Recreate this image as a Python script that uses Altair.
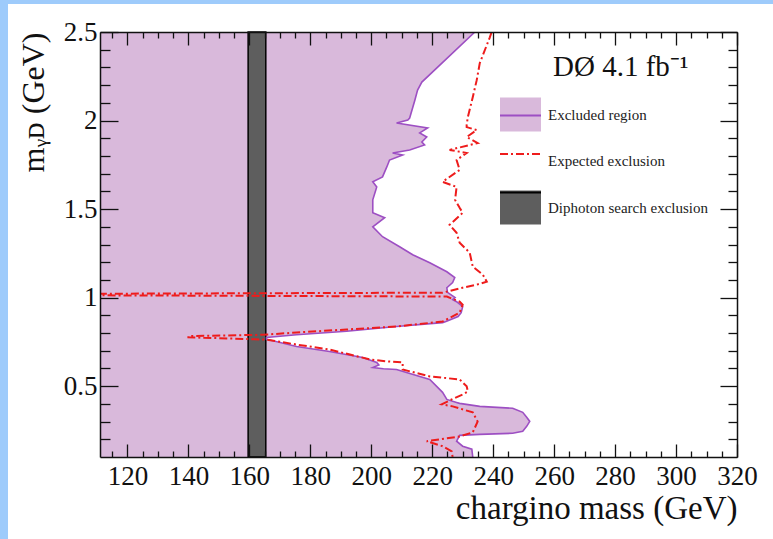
import altair as alt
import pandas as pd

# ---------------- data ----------------
# observed exclusion boundary: m_gammaD (GeV) -> chargino mass (GeV)
obs_y = [2.5, 2.217, 2.172, 2.115, 2.014, 2.003, 1.986, 1.958, 1.93, 1.907, 1.879, 1.862,
         1.834, 1.817, 1.806, 1.777, 1.738, 1.682, 1.654, 1.625, 1.552, 1.496, 1.479, 1.451,
         1.40, 1.344, 1.287, 1.242, 1.197, 1.146, 1.113, 1.085, 1.056, 1.03, 1.0, 0.989,
         0.977, 0.949, 0.915, 0.893, 0.865, 0.859, 0.837, 0.81, 0.79, 0.775, 0.765, 0.724,
         0.696, 0.662, 0.634, 0.62, 0.605, 0.598, 0.594, 0.538, 0.465, 0.425, 0.408, 0.403,
         0.386, 0.375, 0.352, 0.324, 0.301, 0.273, 0.245, 0.234, 0.228, 0.222, 0.189, 0.161,
         0.144, 0.1]
obs_x = [234.0, 216.6, 215.2, 214.3, 212.6, 212.0, 208.3, 218.5, 215.9, 218.2, 216.6, 217.5,
         212.6, 207.0, 210.3, 206.0, 205.1, 203.7, 200.5, 201.8, 200.5, 200.5, 200.5, 204.4,
         200.5, 203.7, 209.3, 213.6, 219.2, 224.8, 227.4, 226.7, 224.8, 225.0, 227.5, 226.7,
         228.0, 230.0, 229.5, 228.5, 224.5, 223.4, 208.3, 191.9, 175.5, 165.6, 165.6, 175.5,
         186.3, 197.2, 201.8, 202.5, 200.5, 204.0, 208.3, 219.2, 223.4, 224.8, 228.0, 229.0,
         235.6, 246.4, 249.7, 251.0, 252.0, 251.0, 249.7, 246.4, 235.6, 229.0, 228.0, 230.0,
         233.0, 233.3]

# expected exclusion (traced in drawing order)
exp_y = [2.5, 2.47, 2.324, 2.228, 2.132, 2.02, 1.975, 1.963, 1.946, 1.907, 1.873, 1.834,
         1.817, 1.777, 1.721, 1.654, 1.625, 1.552, 1.507, 1.479, 1.411, 1.366, 1.31, 1.254,
         1.175, 1.13, 1.09, 1.073, 1.056, 1.028, 1.022, 1.013, 1.006, 0.977, 0.96, 0.915,
         0.865, 0.837, 0.82, 0.803, 0.79, 0.783, 0.776, 0.763, 0.735, 0.707, 0.651, 0.64,
         0.634, 0.594, 0.555, 0.538, 0.499, 0.47, 0.453, 0.425, 0.397, 0.386, 0.352, 0.30,
         0.239, 0.216, 0.189, 0.161, 0.132, 0.1]
exp_x = [239.5, 238.9, 235.6, 234.6, 233.3, 231.7, 231.3, 231.3, 234.6, 231.3, 234.9, 225.7,
         231.3, 228.0, 229.0, 223.4, 228.0, 227.5, 229.0, 230.0, 225.7, 228.0, 229.0, 232.3,
         233.3, 236.6, 237.9, 234.6, 230.0, 223.4, 111.0, 111.0, 224.8, 229.0, 230.0, 229.0,
         223.4, 208.3, 191.9, 175.5, 164.3, 140.0, 140.0, 165.6, 175.5, 186.3, 199.5, 205.1,
         210.3, 210.3, 219.2, 229.0, 231.3, 231.7, 230.0, 226.4, 223.1, 226.7, 233.3, 234.9,
         233.3, 229.0, 218.2, 223.4, 226.4, 226.7]

# diphoton search exclusion band (chargino mass, GeV)
band_lo = [159.6]
band_hi = [165.4]

series_names = ["Excluded region", "Expected exclusion", "Diphoton search exclusion"]
line_keys = ["obs", "exp", "dipho"]   # keys for the line-symbol overlay legend

x_label_values = [120, 140, 160, 180, 200, 220, 240, 260, 280, 300, 320]
x_tick_values = [115, 120, 125, 130, 135, 140, 145, 150, 155, 160, 165, 170, 175, 180, 185,
                 190, 195, 200, 205, 210, 215, 220, 225, 230, 235, 240, 245, 250, 255, 260,
                 265, 270, 275, 280, 285, 290, 295, 300, 305, 310, 315, 320]
y_label_values = [0.5, 1, 1.5, 2, 2.5]
y_tick_values = [0.2, 0.3, 0.4, 0.5, 0.6, 0.7, 0.8, 0.9, 1.0, 1.1, 1.2, 1.3, 1.4, 1.5,
                 1.6, 1.7, 1.8, 1.9, 2.0, 2.1, 2.2, 2.3, 2.4, 2.5]

# ---------------- styling ----------------
W, H = 637, 425
SERIF = "Liberation Serif"
FILL = "#d9b9db"
PURPLE = "#9d4fc3"
RED = "#ee1c1c"
BAND = "#5e5e5e"
BLUE = "#9ecbfb"
INK = "#111111"

obs_df = pd.DataFrame({"x": obs_x, "y": obs_y, "i": list(range(len(obs_x)))})
exp_df = pd.DataFrame({"x": exp_x, "y": exp_y, "i": list(range(len(exp_x)))})
band_df = pd.DataFrame({"lo": band_lo, "hi": band_hi})
leg_df = pd.DataFrame({"series": series_names, "key": line_keys})
dummy = pd.DataFrame({"a": [0]})

x_scale = alt.Scale(domain=[111, 320], zero=False, nice=False)
y_scale = alt.Scale(domain=[0.1, 2.5], zero=False, nice=False)

x_major = "datum.value % 20 === 0"
y_major = "abs(datum.value * 2 - round(datum.value * 2)) < 0.01"


def tick_axis(orient, values, test, major, minor, offset):
    return alt.Axis(
        orient=orient, offset=offset, values=values, labels=False, title=None,
        grid=False, domain=True, domainColor=INK, domainWidth=1.5,
        ticks=True, tickColor=INK, tickWidth=1.3,
        tickSize={"condition": {"test": test, "value": major}, "value": minor},
        zindex=1,
    )


axis_x_labels = alt.Axis(
    orient="bottom", values=x_label_values, ticks=False, tickSize=0, domain=False, grid=False,
    labelFont=SERIF, labelFontSize=27, labelColor=INK, labelPadding=27,
    labelBaseline="alphabetic", labelFlush=False, labelOverlap=False,
    title="chargino mass (GeV)", titleFont=SERIF, titleFontSize=33, titleFontWeight="normal",
    titleColor=INK, titleAnchor="end", titleAlign="right", titleX=W, titleY=61,
    titleBaseline="alphabetic", zindex=1,
)
axis_y_labels = alt.Axis(
    orient="left", values=y_label_values, ticks=False, tickSize=0, domain=False, grid=False,
    labelFont=SERIF, labelFontSize=27, labelColor=INK, labelPadding=3,
    labelExpr="'' + datum.value", labelFlush=False, labelOverlap=False,
    title="mᵧᴅ (GeV)", titleFont=SERIF, titleFontSize=32, titleFontWeight="normal",
    titleColor=INK, titleAngle=270, titleAnchor="end", titleAlign="right",
    titleX=-57, titleY=0, titleBaseline="alphabetic", zindex=1,
)

# light-blue slide frame strips
left_strip = alt.Chart(dummy).mark_rect(color=BLUE).encode(
    x=alt.value(-100), x2=alt.value(-92), y=alt.value(-32), y2=alt.value(507))
top_strip = alt.Chart(dummy).mark_rect(color=BLUE).encode(
    x=alt.value(-100), x2=alt.value(673), y=alt.value(-32), y2=alt.value(-28))

area = alt.Chart(obs_df).mark_area(orient="horizontal", color=FILL, clip=True).encode(
    x=alt.X("x:Q", scale=x_scale, stack=False, axis=axis_x_labels),
    y=alt.Y("y:Q", scale=y_scale, axis=axis_y_labels),
)

band = alt.Chart(band_df).mark_rect(fill=BAND, stroke="black", strokeWidth=1.5).encode(
    x=alt.X("lo:Q", scale=x_scale, axis=None),
    x2="hi:Q",
)

obs_line = alt.Chart(obs_df).mark_line(color=PURPLE, strokeWidth=1.6, clip=True).encode(
    x=alt.X("x:Q", scale=x_scale, axis=tick_axis("top", x_tick_values, x_major, 13, 6, -H)),
    y=alt.Y("y:Q", scale=y_scale, axis=tick_axis("right", y_tick_values, y_major, 18, 10, -W)),
    order="i:Q",
)

exp_line = alt.Chart(exp_df).mark_line(
    color=RED, strokeWidth=2, strokeDash=[8, 3, 2, 3], clip=True
).encode(
    x=alt.X("x:Q", scale=x_scale, axis=tick_axis("bottom", x_tick_values, x_major, 13, 6, -H)),
    y=alt.Y("y:Q", scale=y_scale, axis=tick_axis("left", y_tick_values, y_major, 17, 9, -W)),
    order="i:Q",
)

legend_common = dict(
    orient="none", legendY=21,
    titleFont=SERIF, titleFontSize=29, titleColor=INK,
    titleFontWeight="normal", titleAnchor="start", titlePadding=12, titleLimit=400,
    labelFont=SERIF, labelFontSize=15, labelOffset=7, labelLimit=300,
    symbolSize=1681, rowPadding=8.5, padding=0, symbolOpacity=1,
)
# squares + labels
legend_a = alt.Legend(title="\u00a0", legendX=400,
                      symbolType="M-1,-0.83H1V0.83H-1Z", symbolStrokeWidth=0,
                      labelColor="#222222", **legend_common)
# line symbols drawn over the squares; carries the "DØ 4.1 fb-1" heading
legend_b = alt.Legend(title="DØ 4.1 fb⁻¹", legendX=453, symbolOffset=-54,
                      symbolType="stroke", symbolStrokeWidth=2,
                      labelExpr="''", **legend_common)

leg_a = alt.Chart(leg_df).mark_point(filled=True, opacity=0).encode(
    fill=alt.Fill("series:N", scale=alt.Scale(domain=series_names,
                                              range=[FILL, "#ffffff", BAND]),
                  legend=legend_a)
)
leg_b = alt.Chart(leg_df).mark_point(filled=False, opacity=0).encode(
    stroke=alt.Stroke("key:N", scale=alt.Scale(domain=line_keys,
                                               range=[PURPLE, RED, "#000000"]),
                      legend=legend_b),
    strokeDash=alt.StrokeDash("key:N", scale=alt.Scale(domain=line_keys,
                                                       range=[[1, 0], [8, 3, 2, 3], [1, 0]]),
                              legend=legend_b),
)

chart = alt.layer(
    left_strip, top_strip, area, band, obs_line, exp_line, leg_a, leg_b
).resolve_axis(
    x="independent", y="independent"
).properties(
    width=W, height=H,
    padding={"left": 100, "top": 32, "right": 36, "bottom": 82},
    autosize=alt.AutoSizeParams(type="none"),
    background="white",
).configure_view(strokeWidth=0).configure_axis(labelFont=SERIF, titleFont=SERIF).configure_legend(
    labelFont=SERIF, titleFont=SERIF)

chart.save("out.html", embed_options={"renderer": "svg", "actions": False})
